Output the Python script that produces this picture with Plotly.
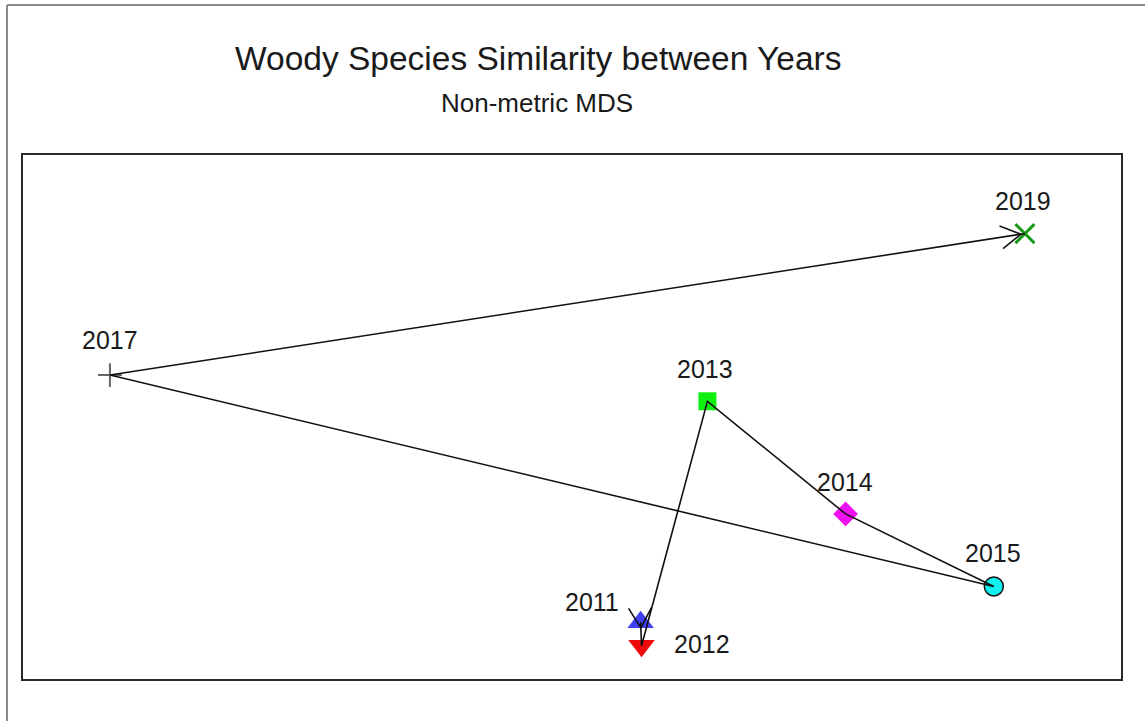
import numpy as np
import plotly.graph_objects as go

# ---- data (NMDS coordinates) ----
years = ["2011", "2012", "2013", "2014", "2015", "2017", "2019"]
nmds1 = [-0.025, -0.024, 0.048, 0.199, 0.361, -0.605, 0.395]
nmds2 = [-0.235, -0.262, 0.018, -0.111, -0.194, 0.048, 0.210]

# ---- styles ----
W, H = 1145, 721
M = dict(l=23, r=24, t=155, b=42)
XR = [-0.7, 0.5]
YR = [-0.3, 0.3]
PW = W - M["l"] - M["r"]
PH = H - M["t"] - M["b"]
FONT = "Liberation Sans, Arial, sans-serif"

marker_style = {
    "2011": dict(symbol="triangle-up", color="#4040f4", size=23, line=dict(width=0)),
    "2012": dict(symbol="triangle-down", color="#ee0a0a", size=23, line=dict(width=0)),
    "2013": dict(symbol="square", color="#10f010", size=18, line=dict(width=0)),
    "2014": dict(symbol="diamond", color="#f010f0", size=19, line=dict(width=0)),
    "2015": dict(symbol="circle", color="#10eeee", size=19, line=dict(width=1.5, color="#111")),
    "2017": dict(symbol="cross-thin", color="#666666", size=17, line=dict(width=2, color="#666666")),
    "2019": dict(symbol="x-thin", color="#1a9a1a", size=19, line=dict(width=3, color="#1a9a1a")),
}
label_offset = {  # (dx, dy) in px, dy positive = up
    "2011": (-49, 20), "2012": (60, 2), "2013": (-2, 32), "2014": (-1, 32),
    "2015": (-1, 33), "2017": (0, 35), "2019": (-2, 33),
}
# arrows: (segment start index, tip shortening in px)
arrow_segments = [(0, 18), (5, 4)]
WING = 23
ANG = np.deg2rad(30)


def to_px(x, y):
    return (M["l"] + (x - XR[0]) / (XR[1] - XR[0]) * PW,
            M["t"] + (YR[1] - y) / (YR[1] - YR[0]) * PH)


def to_data(px, py):
    return (XR[0] + (px - M["l"]) / PW * (XR[1] - XR[0]),
            YR[1] - (py - M["t"]) / PH * (YR[1] - YR[0]))


def xpaper(px):
    return (px - M["l"]) / PW


def ypaper(py):
    return (H - M["b"] - py) / PH


fig = go.Figure()

# markers (drawn below the lines, as in the reference)
for yr, x, y in zip(years, nmds1, nmds2):
    fig.add_trace(go.Scatter(x=[x], y=[y], mode="markers", marker=marker_style[yr],
                             showlegend=False, hoverinfo="text", text=[yr]))

# connecting path
fig.add_trace(go.Scatter(x=nmds1, y=nmds2, mode="lines",
                         line=dict(color="#111111", width=1.6),
                         showlegend=False, hoverinfo="skip"))

# arrowheads (open V)
for i, short in arrow_segments:
    x0, y0 = to_px(nmds1[i], nmds2[i])
    x1, y1 = to_px(nmds1[i + 1], nmds2[i + 1])
    d = np.array([x1 - x0, y1 - y0])
    d = d / np.linalg.norm(d)
    tip = np.array([x1, y1]) - d * short
    back = -d
    wings = []
    for s in (1, -1):
        c, sn = np.cos(s * ANG), np.sin(s * ANG)
        r = np.array([back[0] * c - back[1] * sn, back[0] * sn + back[1] * c])
        wings.append(tip + r * WING)
    pts = [wings[0], tip, wings[1]]
    dx, dy = zip(*[to_data(p[0], p[1]) for p in pts])
    fig.add_trace(go.Scatter(x=list(dx), y=list(dy), mode="lines",
                             line=dict(color="#111111", width=1.6),
                             showlegend=False, hoverinfo="skip"))

# point labels
for yr, x, y in zip(years, nmds1, nmds2):
    ox, oy = label_offset[yr]
    fig.add_annotation(x=x, y=y, text=yr, showarrow=False, xshift=ox, yshift=oy,
                       font=dict(family=FONT, size=25, color="#1a1a1a"))

# titles
fig.add_annotation(xref="paper", yref="paper", x=xpaper(538), y=ypaper(59),
                   text="Woody Species Similarity between Years", showarrow=False,
                   xanchor="center", yanchor="middle",
                   font=dict(family=FONT, size=33.5, color="#1a1a1a"))
fig.add_annotation(xref="paper", yref="paper", x=xpaper(537), y=ypaper(103),
                   text="Non-metric MDS", showarrow=False,
                   xanchor="center", yanchor="middle",
                   font=dict(family=FONT, size=26, color="#1a1a1a"))

# outer border (left and top only visible)
fig.add_shape(type="line", xref="paper", yref="paper",
              x0=xpaper(7), x1=xpaper(7), y0=ypaper(5), y1=ypaper(H),
              line=dict(color="#8a8a8a", width=2))
fig.add_shape(type="line", xref="paper", yref="paper",
              x0=xpaper(7), x1=xpaper(W), y0=ypaper(5), y1=ypaper(5),
              line=dict(color="#8a8a8a", width=2))

fig.update_xaxes(range=XR, showgrid=False, zeroline=False, showticklabels=False,
                 ticks="", showline=True, mirror=True, linecolor="#2a2a2a", linewidth=2)
fig.update_yaxes(range=YR, showgrid=False, zeroline=False, showticklabels=False,
                 ticks="", showline=True, mirror=True, linecolor="#2a2a2a", linewidth=2)
fig.update_layout(width=W, height=H, margin=M, plot_bgcolor="white",
                  paper_bgcolor="white", showlegend=False)

fig.write_html("out.html", config={"displayModeBar": False},
               post_script="document.body.style.margin='0px';document.body.style.overflow='hidden';")
